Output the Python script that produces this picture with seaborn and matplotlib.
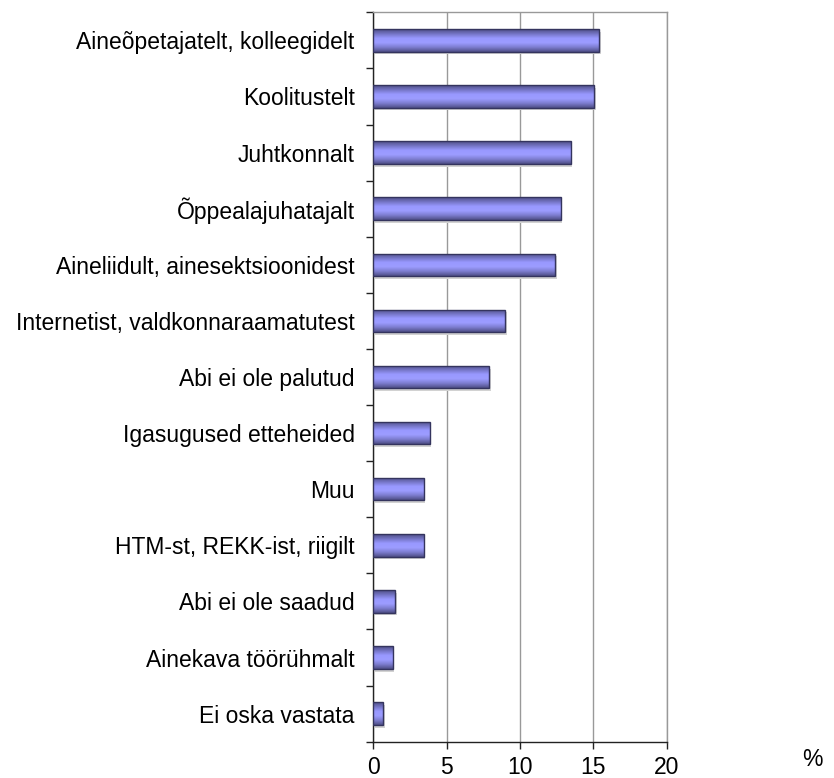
import numpy as np
import pandas as pd
import matplotlib
matplotlib.use("Agg")
import matplotlib.pyplot as plt
import seaborn as sns
from matplotlib.colors import LinearSegmentedColormap

categories = [
    "Aineõpetajatelt, kolleegidelt",
    "Koolitustelt",
    "Juhtkonnalt",
    "Õppealajuhatajalt",
    "Aineliidult, ainesektsioonidest",
    "Internetist, valdkonnaraamatutest",
    "Abi ei ole palutud",
    "Igasugused etteheided",
    "Muu",
    "HTM-st, REKK-ist, riigilt",
    "Abi ei ole saadud",
    "Ainekava töörühmalt",
    "Ei oska vastata",
]
values = [15.4, 15.05, 13.45, 12.77, 12.39, 8.98, 7.9, 3.84, 3.43, 3.43, 1.48, 1.32, 0.68]
xticks = [0, 5, 10, 15, 20]

df = pd.DataFrame({"cat": categories, "val": values})

sns.set_theme(style="white")
plt.rcParams["font.family"] = ["Liberation Sans", "DejaVu Sans"]
plt.rcParams["text.color"] = "black"
plt.rcParams["xtick.color"] = "black"
plt.rcParams["ytick.color"] = "black"
plt.rcParams["xtick.labelcolor"] = "black"
plt.rcParams["ytick.labelcolor"] = "black"

FS = 16.5

fig = plt.figure(figsize=(8.34, 7.78), dpi=100)
ax = fig.add_axes([0.4476, 0.0467, 0.7994 - 0.4476, 0.9842 - 0.0467])

sns.barplot(data=df, x="val", y="cat", orient="h", color="#9999ff",
            width=0.4, edgecolor="#34345e", linewidth=1.0, ax=ax, zorder=3,
            saturation=1)

# gradient fill + shadow for a 3D-ish look
cmap = LinearSegmentedColormap.from_list(
    "g", ["#4e4e86", "#7474c4", "#9999ff", "#9c9cff", "#7c7cce", "#4e4e86"])
grad = np.linspace(0, 1, 64).reshape(-1, 1)
for p in ax.patches:
    x0, y0 = p.get_x(), p.get_y()
    w, h = p.get_width(), p.get_height()
    sh = plt.Rectangle((x0 + 0.12, y0 + 0.05), w, h, facecolor="#d2d2d2",
                       edgecolor="none", zorder=2)
    ax.add_patch(sh)
    im = ax.imshow(grad, extent=[x0, x0 + w, y0 + h, y0], aspect="auto",
                   cmap=cmap, zorder=3.5, interpolation="bilinear")
    im.set_clip_path(p)
    p.set_facecolor("none")
    p.set_zorder(4)

ax.set_xlim(0, 20)
ax.set_ylim(len(categories) - 0.5, -0.5)
ax.set_xticks(xticks)
ax.set_xticklabels([str(t) for t in xticks], fontsize=FS)
ax.set_xlabel("")
ax.set_ylabel("")

ax.set_yticks(range(len(categories)))
ax.set_yticklabels(categories, fontsize=FS)
ax.set_yticks(np.arange(-0.5, len(categories), 1.0), minor=True)
ax.tick_params(axis="y", which="major", length=0, pad=13.5)
ax.tick_params(axis="y", which="minor", length=5, width=1, color="#222222", left=True)
ax.tick_params(axis="x", which="major", length=5, width=1, color="#222222",
               bottom=True, pad=5)

ax.grid(axis="x", color="#999999", linewidth=1, zorder=1)
ax.set_axisbelow(True)
for s in ["left", "bottom"]:
    ax.spines[s].set_color("#222222")
    ax.spines[s].set_linewidth(1)
for s in ["top", "right"]:
    ax.spines[s].set_color("#999999")
    ax.spines[s].set_linewidth(1)

fig.text(812 / 834, 1 - 760 / 778, "%", fontsize=FS, ha="center", va="center")

fig.savefig("out.png", dpi=100, facecolor="white")
